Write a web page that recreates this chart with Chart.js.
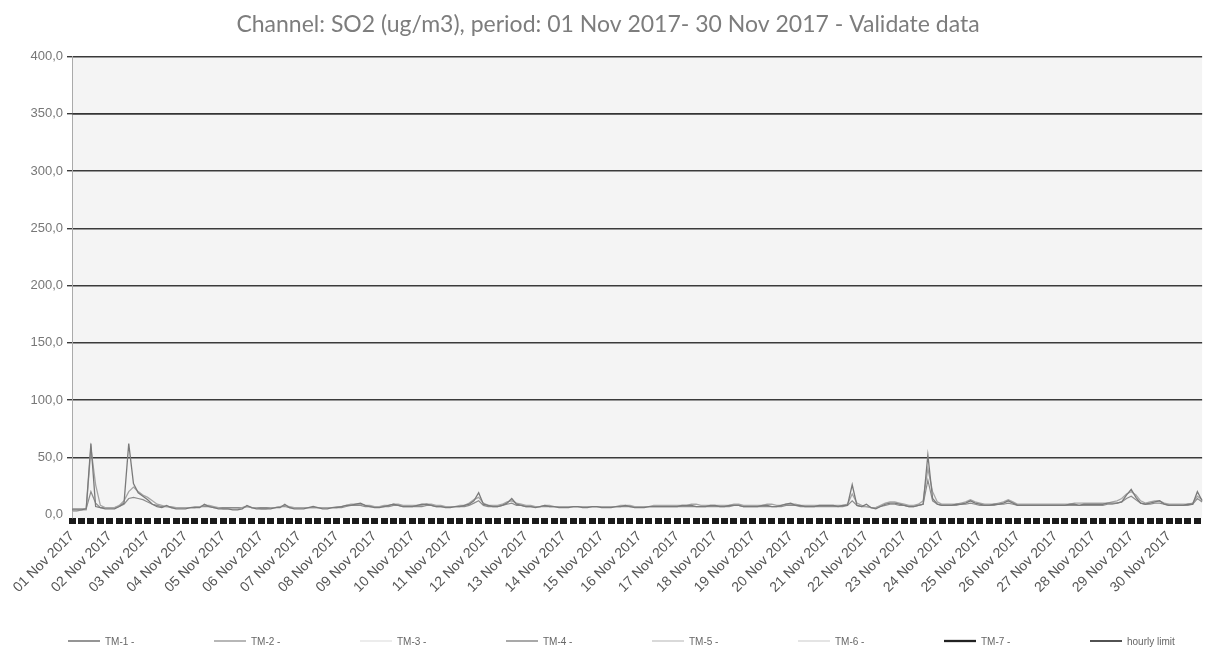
<!DOCTYPE html>
<html>
<head>
<meta charset="utf-8">
<script src="https://cdn.jsdelivr.net/npm/chart.js@4"></script>
<style>
    html, body { margin: 0; padding: 0; background: #fff; }
    #wrap { width: 1218px; height: 652px; }
</style>
</head>
<body>
<div id="wrap"><canvas id="grafico"></canvas></div>
<script>
const days = [
    "01 Nov 2017", "02 Nov 2017", "03 Nov 2017", "04 Nov 2017", "05 Nov 2017",
    "06 Nov 2017", "07 Nov 2017", "08 Nov 2017", "09 Nov 2017", "10 Nov 2017",
    "11 Nov 2017", "12 Nov 2017", "13 Nov 2017", "14 Nov 2017", "15 Nov 2017",
    "16 Nov 2017", "17 Nov 2017", "18 Nov 2017", "19 Nov 2017", "20 Nov 2017",
    "21 Nov 2017", "22 Nov 2017", "23 Nov 2017", "24 Nov 2017", "25 Nov 2017",
    "26 Nov 2017", "27 Nov 2017", "28 Nov 2017", "29 Nov 2017", "30 Nov 2017"
];
const hours = ["00", "03", "06", "09", "12", "15", "18", "21"];

const yTicks = [0, 50, 100, 150, 200, 250, 300, 350, 400];

// one row per day, 3-hourly values
const tm1 = [
    4, 4, 4, 5, 62, 7, 6, 5,
    5, 5, 7, 10, 62, 27, 19, 16,
    13, 9, 7, 6, 8, 6, 5, 5,
    5, 6, 6, 6, 9, 7, 6, 5,
    5, 5, 4, 4, 5, 8, 6, 5,
    5, 5, 5, 6, 6, 9, 6, 5,
    5, 5, 6, 7, 6, 5, 5, 6,
    6, 7, 8, 8, 9, 10, 8, 7,
    6, 6, 7, 8, 9, 8, 7, 7,
    7, 8, 9, 9, 8, 7, 7, 6,
    6, 7, 7, 8, 9, 12, 19, 9,
    8, 7, 7, 8, 10, 14, 9, 8,
    7, 7, 6, 7, 8, 7, 7, 6,
    6, 6, 7, 7, 6, 6, 7, 7,
    6, 6, 6, 7, 7, 8, 7, 6,
    6, 6, 7, 7, 7, 7, 7, 7,
    7, 8, 8, 8, 7, 7, 7, 8,
    8, 7, 7, 8, 8, 8, 7, 7,
    7, 7, 8, 8, 7, 7, 8, 9,
    10, 8, 8, 7, 7, 7, 8, 8,
    8, 8, 7, 8, 8, 26, 8, 7,
    9, 6, 5, 7, 9, 10, 10, 9,
    8, 7, 7, 8, 9, 52, 14, 9,
    8, 8, 8, 9, 9, 10, 12, 10,
    9, 8, 8, 9, 9, 10, 12, 10,
    8, 8, 8, 8, 8, 8, 8, 8,
    8, 8, 8, 9, 9, 8, 9, 9,
    9, 9, 9, 10, 10, 10, 11, 17,
    22, 15, 10, 9, 10, 11, 12, 9,
    8, 8, 8, 8, 9, 9, 20, 12
];

const tm2 = [
    3, 3, 4, 4, 58, 26, 8, 6,
    6, 6, 8, 12, 20, 24, 20, 17,
    15, 12, 9, 8, 7, 7, 6, 6,
    6, 6, 7, 7, 8, 8, 7, 6,
    5, 5, 5, 5, 6, 7, 6, 6,
    5, 5, 6, 6, 7, 8, 7, 6,
    6, 6, 6, 6, 6, 6, 6, 6,
    7, 7, 8, 9, 9, 9, 8, 8,
    7, 7, 8, 8, 9, 9, 8, 8,
    8, 8, 8, 9, 9, 8, 8, 7,
    7, 7, 8, 8, 10, 13, 15, 10,
    8, 8, 8, 9, 11, 12, 10, 9,
    8, 8, 7, 7, 8, 8, 7, 7,
    7, 7, 7, 7, 7, 7, 7, 7,
    7, 7, 7, 7, 8, 8, 8, 7,
    7, 7, 7, 8, 8, 8, 8, 8,
    8, 8, 8, 9, 9, 8, 8, 8,
    8, 8, 8, 8, 9, 9, 8, 8,
    8, 8, 8, 9, 9, 8, 8, 9,
    9, 9, 8, 8, 8, 8, 8, 8,
    8, 8, 8, 8, 9, 18, 10, 8,
    7, 6, 6, 8, 10, 11, 11, 10,
    9, 8, 8, 9, 12, 40, 20, 11,
    9, 9, 9, 9, 10, 11, 13, 11,
    10, 9, 9, 9, 10, 11, 13, 11,
    9, 9, 9, 9, 9, 9, 9, 9,
    9, 9, 9, 9, 10, 10, 10, 10,
    10, 10, 10, 10, 11, 12, 14, 18,
    20, 17, 12, 10, 11, 12, 12, 10,
    9, 9, 9, 9, 9, 10, 16, 13
];

const tm4 = [
    5, 5, 5, 5, 20, 10, 6, 6,
    6, 6, 7, 9, 14, 15, 14, 13,
    11, 9, 8, 7, 7, 6, 6, 6,
    6, 6, 6, 7, 7, 7, 6, 6,
    6, 6, 6, 6, 6, 7, 6, 6,
    6, 6, 6, 6, 7, 7, 6, 6,
    6, 6, 6, 6, 6, 6, 6, 6,
    6, 6, 7, 8, 8, 8, 7, 7,
    7, 7, 7, 7, 8, 8, 7, 7,
    7, 7, 7, 8, 8, 7, 7, 7,
    7, 7, 7, 7, 8, 10, 12, 8,
    7, 7, 7, 8, 9, 10, 8, 8,
    7, 7, 7, 7, 7, 7, 7, 7,
    7, 7, 7, 7, 7, 7, 7, 7,
    7, 7, 7, 7, 7, 7, 7, 7,
    7, 7, 7, 7, 7, 7, 7, 7,
    7, 7, 7, 7, 7, 7, 7, 7,
    7, 7, 7, 7, 8, 8, 7, 7,
    7, 7, 7, 7, 7, 7, 7, 8,
    8, 8, 7, 7, 7, 7, 7, 7,
    7, 7, 7, 7, 8, 12, 8, 7,
    7, 6, 6, 7, 8, 9, 9, 8,
    8, 7, 7, 8, 9, 30, 12, 9,
    8, 8, 8, 8, 9, 9, 10, 9,
    8, 8, 8, 8, 9, 9, 10, 9,
    8, 8, 8, 8, 8, 8, 8, 8,
    8, 8, 8, 8, 8, 8, 8, 8,
    8, 8, 8, 9, 9, 10, 11, 14,
    16, 13, 10, 9, 9, 10, 10, 9,
    8, 8, 8, 8, 8, 9, 14, 11
];

// TM-3, TM-5, TM-6, TM-7 have no visible trace in the picture
const tm3 = [];
const tm5 = [];
const tm6 = [];
const tm7 = [];
const hourlyLimit = [350, 350];

const labels = [];
days.forEach(d => hours.forEach(h => labels.push(`${d} ${h}:00`)));

const serie = (label, data, color, width) => ({
    label: label,
    data: data,
    borderColor: color,
    backgroundColor: color,
    borderWidth: width,
    pointRadius: 0,
    tension: 0
});

const fondoArea = {
    id: "fondoArea",
    beforeDraw(chart) {
        const { ctx, chartArea: a } = chart;
        ctx.save();
        ctx.fillStyle = "#f4f4f4";
        ctx.fillRect(a.left, a.top, a.right - a.left, a.bottom - a.top);
        ctx.restore();
    }
};

// legend row with even spacing, like the source report
const leyenda = {
    id: "leyenda",
    afterDraw(chart) {
        const { ctx } = chart;
        ctx.save();
        ctx.font = "10px 'Liberation Sans'";
        ctx.textBaseline = "middle";
        ctx.fillStyle = "#666";
        chart.data.datasets.forEach((ds, i) => {
            const x = 105 + i * 146;
            const y = 641;
            ctx.strokeStyle = ds.borderColor;
            ctx.lineWidth = ds.borderWidth + 0.3;
            ctx.beginPath();
            ctx.moveTo(x - 37, y);
            ctx.lineTo(x - 5, y);
            ctx.stroke();
            ctx.fillText(ds.label, x, y + 1);
        });
        ctx.restore();
    }
};

const ctx = document.getElementById("grafico");

new Chart(ctx, {
    type: "line",
    data: {
        labels: labels,
        datasets: [
            serie("TM-1 -", tm1, "#7a7a7a", 1.3),
            serie("TM-2 -", tm2, "#a5a5a5", 1.3),
            serie("TM-3 -", tm3, "#e2e2e2", 1),
            serie("TM-4 -", tm4, "#8c8c8c", 1.2),
            serie("TM-5 -", tm5, "#c4c4c4", 1),
            serie("TM-6 -", tm6, "#d6d6d6", 1),
            serie("TM-7 -", tm7, "#222222", 2),
            serie("hourly limit", [
                { x: labels[0], y: hourlyLimit[0] },
                { x: labels[labels.length - 1], y: hourlyLimit[1] }
            ], "#333333", 1.4)
        ]
    },
    options: {
        responsive: true,
        maintainAspectRatio: false,
        animation: false,
        layout: { padding: { left: 0, right: 2, top: 0, bottom: 52 } },
        plugins: {
            title: {
                display: true,
                text: "Channel: SO2 (ug/m3), period: 01 Nov 2017- 30 Nov 2017 - Validate data",
                color: "#7d7d7d",
                font: { family: "Lato", size: 23, weight: "normal" },
                padding: { top: 11, bottom: 18 }
            },
            legend: { display: false },
            tooltip: { enabled: false }
        },
        scales: {
            x: {
                grid: {
                    display: true,
                    drawOnChartArea: false,
                    drawTicks: true,
                    tickLength: 6,
                    lineWidth: 7,
                    color: c => c.index % 2 === 0 ? "#1a1a1a" : "rgba(0,0,0,0)"
                },
                border: { display: false },
                ticks: {
                    autoSkip: false,
                    maxRotation: 45,
                    minRotation: 45,
                    padding: 4,
                    color: "#555",
                    font: { family: "Liberation Sans", size: 14 },
                    callback: (val, i) => i % hours.length === 0 ? days[i / hours.length] : ""
                }
            },
            y: {
                min: -3,
                max: 400,
                afterFit: axis => { axis.width = 72; },
                afterBuildTicks: axis => {
                    axis.ticks = yTicks.map(v => ({ value: v }));
                },
                grid: {
                    color: c => c.tick && c.tick.value === 0 ? "rgba(0,0,0,0)" : "#3a3a3a",
                    lineWidth: 1.4,
                    tickLength: 5
                },
                border: { color: "#aaa", width: 1 },
                ticks: {
                    color: "#777",
                    padding: 4,
                    font: { family: "Liberation Sans", size: 13 },
                    callback: v => v.toFixed(1).replace(".", ",")
                }
            }
        }
    },
    plugins: [fondoArea, leyenda]
});
</script>
</body>
</html>
